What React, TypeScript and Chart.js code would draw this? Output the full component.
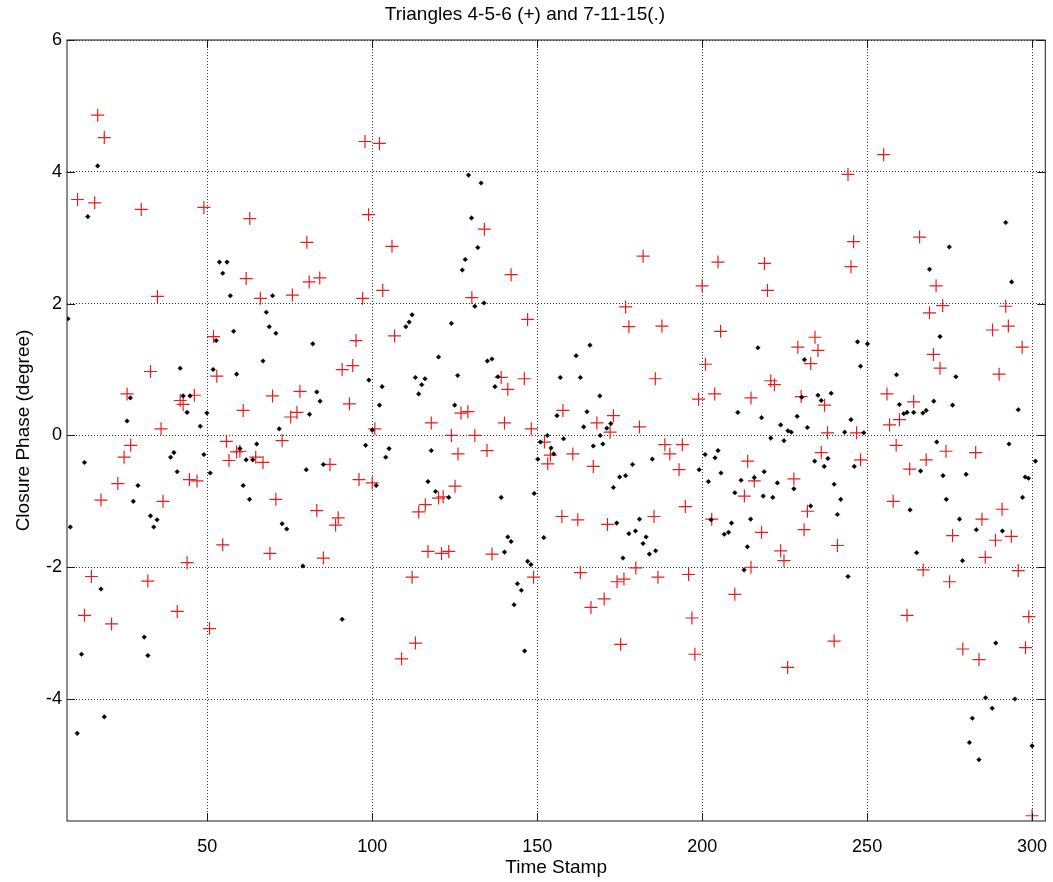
import React, { useEffect, useRef } from "react";
import { Chart, registerables } from "chart.js";

Chart.register(...registerables);

const titleText = "Triangles 4-5-6 (+) and 7-11-15(.)";
const xLabel = "Time Stamp";
const yLabel = "Closure Phase (degree)";
const xTicks = [50, 100, 150, 200, 250, 300];
const yTicks = [-4, -2, 0, 2, 4, 6];
const xRange = [7.5, 304];
const yRange = [-5.85, 6];

// Triangle 4-5-6 (red "+") : [time stamp, closure phase]
const tri456: [number, number][] = [
  [16.8, 4.86], [18.8, 4.52], [10.7, 3.58], [15.9, 3.53], [30.0, 3.43], [49.0, 3.46], [62.9, 3.29], [34.9, 2.11],
  [61.8, 2.38], [66.1, 2.08], [75.8, 2.13], [51.9, 1.5], [52.9, 0.9], [32.8, 0.97], [25.7, 0.63], [46.1, 0.61],
  [41.8, 0.53], [42.7, 0.47], [69.8, 0.6], [60.9, 0.38], [78.1, 0.67], [77.2, 0.35], [75.3, 0.28], [36.0, 0.1],
  [55.8, -0.09], [72.7, -0.08], [26.8, -0.15], [24.8, -0.33], [22.9, -0.73], [17.8, -0.98], [36.6, -1.0], [44.6, -0.67],
  [46.9, -0.69], [56.6, -0.38], [58.9, -0.25], [59.9, -0.24], [64.7, -0.33], [66.9, -0.41], [70.8, -0.97], [54.7, -1.66],
  [69.0, -1.79], [43.9, -1.93], [14.9, -2.14], [32.0, -2.21], [12.8, -2.73], [21.0, -2.86], [40.9, -2.67], [50.7, -2.93],
  [97.8, 4.46], [102.2, 4.43], [98.9, 3.35], [106.0, 2.87], [134.0, 3.13], [80.2, 2.93], [80.9, 2.33], [84.1, 2.39],
  [97.1, 2.08], [103.2, 2.2], [130.2, 2.09], [142.1, 2.44], [147.1, 1.76], [106.8, 1.51], [95.1, 1.44], [94.1, 1.06],
  [90.9, 1.0], [93.1, 0.48], [100.8, 0.1], [117.9, 0.19], [124.0, 0.0], [131.1, 0.0], [126.9, 0.34], [129.0, 0.36],
  [139.1, 0.88], [141.1, 0.7], [146.1, 0.86], [140.1, 0.19], [148.2, 0.1], [87.2, -0.44], [96.0, -0.67], [100.0, -0.72],
  [83.2, -1.14], [89.7, -1.25], [88.9, -1.36], [85.2, -1.86], [126.0, -0.28], [134.8, -0.23], [125.1, -0.77], [120.1, -0.95],
  [121.5, -0.93], [116.1, -1.05], [114.1, -1.16], [116.9, -1.76], [121.0, -1.79], [123.2, -1.76], [136.3, -1.8], [112.1, -2.15],
  [113.1, -3.15], [108.9, -3.39], [148.9, -2.15], [152.2, -0.1], [153.2, -0.43],
  [154.0, -0.3], [160.8, -0.28], [167.0, -0.47], [188.7, -0.14], [190.2, -0.28], [194.0, -0.14], [193.0, -0.52], [194.9, -1.08],
  [157.5, -1.23], [162.3, -1.28], [171.3, -1.35], [185.4, -1.23], [202.9, -1.27], [213.8, -0.39], [215.8, -0.69], [212.8, -0.92],
  [227.8, -0.66], [218.0, -1.47], [223.8, -1.75], [224.8, -1.9], [214.8, -2.0], [209.9, -2.41], [225.9, -3.52], [163.1, -2.08],
  [179.9, -2.01], [174.2, -2.22], [176.3, -2.18], [170.3, -2.48], [166.3, -2.61], [186.6, -2.15], [195.9, -2.11], [196.9, -2.77],
  [197.8, -3.32], [175.3, -3.17], [182.1, 2.72], [204.8, 2.63], [218.9, 2.61], [200.0, 2.27], [219.8, 2.2], [176.8, 1.95],
  [177.8, 1.65], [187.8, 1.66], [205.6, 1.58], [201.0, 1.08], [185.8, 0.86], [157.8, 0.38], [168.1, 0.19], [173.1, 0.3],
  [172.1, 0.05], [181.0, 0.13], [198.9, 0.55], [203.8, 0.63], [214.8, 0.57], [220.8, 0.83], [221.9, 0.77],
  [255.0, 4.26], [244.2, 3.96], [245.9, 2.94], [245.1, 2.56], [265.9, 3.01], [270.9, 2.27], [272.9, 1.97], [268.9, 1.86],
  [292.0, 1.96], [292.8, 1.66], [288.0, 1.6], [297.0, 1.34], [290.0, 0.93], [270.1, 1.23], [272.1, 1.02], [234.2, 1.49],
  [229.0, 1.34], [235.1, 1.29], [232.9, 1.09], [230.0, 0.59], [237.1, 0.46], [256.0, 0.63], [264.1, 0.51], [259.8, 0.24],
  [256.8, 0.16], [238.0, 0.04], [246.8, 0.04], [258.8, -0.15], [236.1, -0.26], [248.0, -0.37], [231.9, -1.15], [230.9, -1.43],
  [241.0, -1.67], [240.0, -3.12], [262.9, -0.51], [267.9, -0.37], [273.9, -0.24], [282.9, -0.26], [257.9, -1.0], [275.9, -1.52],
  [284.8, -1.27], [290.9, -1.12], [288.9, -1.59], [293.7, -1.53], [285.8, -1.85], [267.0, -2.04], [275.0, -2.22], [295.8, -2.05],
  [262.1, -2.73], [279.0, -3.24], [283.9, -3.4], [299.0, -2.75], [298.0, -3.22], [300.0, -5.77],
];

// Triangle 7-11-15 (black ".") : [time stamp, closure phase]
const tri71115: [number, number][] = [
  [16.8, 4.09], [13.8, 3.32], [7.8, 1.77], [53.7, 2.63], [56.0, 2.63], [54.7, 2.46], [57.0, 2.12], [69.8, 2.12],
  [67.9, 1.87], [68.8, 1.65], [70.8, 1.55], [58.0, 1.58], [52.7, 1.44], [66.9, 1.13], [41.8, 1.02], [51.8, 1.0],
  [58.9, 0.93], [26.7, 0.57], [42.7, 0.6], [44.8, 0.6], [43.9, 0.35], [49.9, 0.34], [25.7, 0.22], [47.9, 0.14],
  [71.8, 0.1], [12.8, -0.41], [8.5, -1.39], [27.6, -1.0], [29.0, -0.76], [32.8, -1.22], [34.8, -1.28], [33.8, -1.39],
  [38.9, -0.33], [39.9, -0.26], [40.9, -0.55], [49.0, -0.29], [50.9, -0.57], [59.9, -0.2], [61.8, -0.37], [63.8, -0.37],
  [65.0, -0.13], [60.9, -0.76], [62.8, -0.97], [72.7, -1.34], [74.1, -1.42], [79.0, -1.98], [80.0, -0.52], [17.8, -2.33],
  [11.9, -3.32], [30.9, -3.06], [32.0, -3.34], [10.6, -4.52], [18.8, -4.27],
  [129.2, 3.95], [133.0, 3.83], [130.1, 3.3], [132.0, 2.85], [128.2, 2.67], [127.3, 2.51], [131.1, 1.96], [133.9, 2.01],
  [112.1, 1.83], [111.2, 1.72], [110.2, 1.65], [124.0, 1.7], [82.0, 1.39], [120.1, 1.19], [134.9, 1.13], [136.3, 1.16],
  [99.0, 0.84], [103.0, 0.74], [113.1, 0.88], [116.0, 0.86], [115.0, 0.77], [114.1, 0.63], [125.9, 0.91], [138.1, 0.89],
  [137.2, 0.74], [83.2, 0.66], [84.2, 0.52], [81.0, 0.32], [102.2, 0.46], [125.0, 0.46], [100.0, 0.08], [153.1, 0.0],
  [85.2, -0.44], [90.9, -2.79], [98.0, -0.15], [101.2, -0.76], [104.1, -0.33], [105.1, -0.2], [117.9, -0.23], [116.9, -0.7],
  [119.2, -0.85], [123.2, -0.94], [139.1, -0.94], [149.1, -0.88], [141.1, -1.54], [142.1, -1.61], [140.1, -1.77], [147.1, -1.91],
  [148.1, -1.96], [144.0, -2.25], [145.2, -2.35], [143.0, -2.57], [146.2, -3.27], [151.0, -0.1], [150.2, -0.36], [152.0, -1.55],
  [166.0, 1.37], [161.8, 1.21], [157.0, 0.88], [163.1, 0.88], [169.0, 0.6], [156.0, 0.3], [165.1, 0.36], [164.1, 0.13],
  [169.1, 0.0], [171.1, 0.11], [172.3, 0.18], [158.0, -0.05], [216.9, 1.33], [210.8, 0.35], [218.0, 0.27], [223.8, 0.16],
  [226.0, 0.07], [227.0, 0.05], [220.8, -0.04], [228.8, 0.29], [154.2, -0.19], [155.0, -0.28], [167.0, -0.16], [169.9, -0.13],
  [178.9, -0.44], [184.9, -0.36], [175.0, -0.63], [176.8, -0.61], [173.1, -0.79], [174.1, -1.33], [181.0, -1.27], [177.8, -1.49],
  [179.8, -1.45], [183.0, -1.54], [182.1, -1.64], [184.0, -1.8], [185.9, -1.75], [176.0, -1.86], [199.1, -0.52], [200.9, -0.29],
  [203.9, -0.34], [204.8, -0.23], [201.9, -0.7], [205.7, -0.57], [211.8, -0.68], [215.8, -0.64], [209.9, -0.87], [218.8, -0.55],
  [222.8, -0.72], [218.5, -0.92], [221.4, -0.94], [227.8, -0.81], [224.8, -0.08], [202.7, -1.28], [208.9, -1.33], [206.7, -1.5],
  [208.0, -1.47], [214.7, -1.27], [213.7, -1.69], [212.7, -2.04],
  [292.0, 3.23], [274.9, 2.86], [268.9, 2.52], [293.8, 2.33], [272.1, 1.5], [258.9, 0.92], [276.9, 0.89], [247.1, 1.42],
  [250.1, 1.39], [248.0, 1.05], [231.0, 1.15], [230.2, 0.58], [235.1, 0.61], [239.1, 0.64], [236.1, 0.53], [231.9, 0.12],
  [243.2, 0.05], [245.1, 0.24], [249.0, 0.04], [259.8, 0.47], [261.1, 0.33], [262.1, 0.35], [264.1, 0.35], [266.9, 0.34],
  [267.9, 0.38], [270.2, 0.52], [275.9, 0.46], [295.8, 0.39], [234.1, -0.39], [238.1, -0.35], [237.0, -0.47], [246.1, -0.47],
  [240.0, -0.74], [232.9, -1.07], [242.0, -0.97], [241.0, -1.2], [244.2, -2.14], [271.1, -0.1], [293.0, -0.13], [301.0, -0.39],
  [266.2, -0.54], [273.0, -0.61], [280.0, -0.59], [297.9, -0.63], [298.9, -0.65], [274.0, -0.97], [263.0, -1.13], [278.0, -1.27],
  [283.1, -1.43], [291.0, -1.45], [297.1, -0.94], [265.0, -1.78], [278.9, -1.9], [289.0, -3.15], [285.9, -3.98], [294.8, -4.0],
  [287.9, -4.14], [281.9, -4.29], [281.0, -4.66], [283.9, -4.92], [300.0, -4.71],
];

const FONT = "'Liberation Sans', Arial, Helvetica, sans-serif";

const boxPlugin = {
  id: "matlabBox",
  afterDatasetsDraw(chart: any) {
    const { ctx, chartArea, scales } = chart;
    const { left, right, top, bottom } = chartArea;
    ctx.save();
    ctx.strokeStyle = "#1a1a1a";
    ctx.lineWidth = 1;
    ctx.strokeRect(left, top, right - left, bottom - top);
    const L = 8;
    ctx.beginPath();
    xTicks.forEach((v) => {
      const p = Math.round(scales.x.getPixelForValue(v)) + 0.5;
      ctx.moveTo(p, bottom);
      ctx.lineTo(p, bottom - L);
      ctx.moveTo(p, top);
      ctx.lineTo(p, top + L);
    });
    yTicks.forEach((v) => {
      const p = Math.round(scales.y.getPixelForValue(v)) + 0.5;
      ctx.moveTo(left, p);
      ctx.lineTo(left + L, p);
      ctx.moveTo(right, p);
      ctx.lineTo(right - L, p);
    });
    ctx.stroke();
    ctx.restore();
  },
};

export default function App() {
  const ref = useRef<HTMLCanvasElement>(null);

  useEffect(() => {
    document.body.style.margin = "0";
    const canvas = ref.current;
    if (!canvas) return;
    const chart = new Chart(canvas, {
      type: "scatter",
      data: {
        datasets: [
          {
            label: "7-11-15",
            data: tri71115.map(([x, y]) => ({ x, y })),
            pointStyle: "rectRot",
            pointRadius: 2.3,
            backgroundColor: "#000",
            borderColor: "#000",
            borderWidth: 0.5,
            order: 0,
          },
          {
            label: "4-5-6",
            data: tri456.map(([x, y]) => ({ x, y })),
            pointStyle: "cross",
            pointRadius: 6.5,
            backgroundColor: "rgb(232,28,28)",
            borderColor: "rgb(232,28,28)",
            borderWidth: 1.2,
            order: 1,
          },
        ],
      },
      options: {
        responsive: false,
        animation: false,
        devicePixelRatio: 1,
        layout: { padding: { left: 0, right: 3, top: 0, bottom: 0 } },
        plugins: {
          legend: { display: false },
          tooltip: { enabled: false },
          title: {
            display: true,
            text: titleText,
            color: "#000",
            font: { family: FONT, size: 19, weight: "normal", lineHeight: 1.2 },
            padding: { top: 3.6, bottom: 13.6 },
          },
        },
        scales: {
          x: {
            type: "linear",
            min: xRange[0],
            max: xRange[1],
            afterBuildTicks: (s: any) => {
              s.ticks = xTicks.map((v) => ({ value: v }));
            },
            afterFit: (s: any) => {
              s.height = 61;
              s.paddingLeft = 0;
              s.paddingRight = 0;
            },
            ticks: {
              color: "#000",
              font: { family: FONT, size: 18 },
              padding: 15,
              maxRotation: 0,
              autoSkip: false,
            },
            grid: { color: "rgba(0,0,0,0.8)", lineWidth: 1, drawTicks: false },
            border: { display: false, dash: [1, 2] },
            title: {
              display: true,
              text: xLabel,
              color: "#000",
              font: { family: FONT, size: 19, lineHeight: 1.2 },
              padding: { top: 0, bottom: 3 },
            },
          },
          y: {
            type: "linear",
            min: yRange[0],
            max: yRange[1],
            afterBuildTicks: (s: any) => {
              s.ticks = yTicks.map((v) => ({ value: v }));
            },
            afterFit: (s: any) => {
              s.width = 67;
              s.paddingTop = 0;
              s.paddingBottom = 0;
            },
            ticks: {
              color: "#000",
              font: { family: FONT, size: 18 },
              padding: 5,
              autoSkip: false,
            },
            grid: { color: "rgba(0,0,0,0.8)", lineWidth: 1, drawTicks: false },
            border: { display: false, dash: [1, 2] },
            title: {
              display: true,
              text: yLabel,
              color: "#000",
              font: { family: FONT, size: 19, lineHeight: 1.2 },
              padding: { top: 12.6, bottom: 0 },
            },
          },
        },
      },
      plugins: [boxPlugin],
    });
    return () => chart.destroy();
  }, []);

  return (
    <div style={{ width: 1053, height: 882 }}>
      <canvas ref={ref} width={1053} height={882} style={{ display: "block" }} />
    </div>
  );
}
